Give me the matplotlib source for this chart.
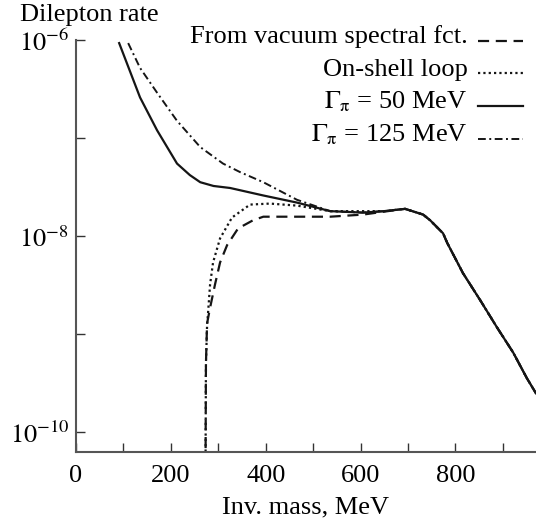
import matplotlib

matplotlib.use("Agg")
import matplotlib.pyplot as plt
import numpy as np
from matplotlib.legend_handler import HandlerLine2D
from matplotlib.lines import Line2D

plt.rcParams["font.family"] = ["Liberation Serif", "DejaVu Serif"]
plt.rcParams["mathtext.fontset"] = "stix"

# invariant mass (MeV) and dilepton rate
mass_g50 = [91, 135, 171, 213, 240, 262, 290, 325, 395, 466, 536, 605, 650, 694,
            732, 747, 774, 783, 816, 852, 888, 922, 951, 970]
rate_g50 = [9.3e-7, 2.6e-7, 1.2e-7, 5.5e-8, 4.2e-8, 3.55e-8, 3.25e-8, 3.1e-8, 2.6e-8,
            2.2e-8, 1.8e-8, 1.74e-8, 1.8e-8, 1.9e-8,
            1.66e-8, 1.45e-8, 1.07e-8, 8.5e-9, 4.2e-9, 2.24e-9, 1.17e-9, 6.5e-10,
            3.55e-10, 2.5e-10]

mass_g125 = [110, 135, 171, 213, 262, 310, 346, 395, 466, 515, 536, 605, 650, 694,
             732, 747, 774, 783, 816, 852, 888, 922, 951, 970]
rate_g125 = [9.3e-7, 5.2e-7, 2.9e-7, 1.5e-7, 8.1e-8, 5.5e-8, 4.5e-8, 3.55e-8, 2.35e-8,
             1.95e-8, 1.8e-8, 1.74e-8, 1.8e-8, 1.9e-8,
             1.66e-8, 1.45e-8, 1.07e-8, 8.5e-9, 4.2e-9, 2.24e-9, 1.17e-9, 6.5e-10,
             3.55e-10, 2.5e-10]

mass_onshell = [273, 274, 276.4, 278.5, 282.7, 289, 303.8, 329, 367, 409, 466, 536,
                605, 650, 694, 732, 747, 774, 783, 816, 852, 888, 922, 951, 970]
rate_onshell = [3e-11, 5e-10, 1.23e-9, 1.66e-9, 3.2e-9, 5.4e-9, 9.5e-9, 1.55e-8,
                2.1e-8, 2.15e-8, 2.05e-8, 1.8e-8, 1.8e-8, 1.8e-8, 1.9e-8,
                1.66e-8, 1.45e-8, 1.07e-8, 8.5e-9, 4.2e-9, 2.24e-9, 1.17e-9, 6.5e-10,
                3.55e-10, 2.5e-10]

mass_vacuum = [273, 274, 276.4, 282.7, 293, 303.8, 318.6, 341.8, 373, 395, 466, 536,
               605, 650, 694, 732, 747, 774, 783, 816, 852, 888, 922, 951, 970]
rate_vacuum = [3e-11, 5e-10, 1.29e-9, 1.86e-9, 3.2e-9, 5.4e-9, 8.1e-9, 1.2e-8,
               1.45e-8, 1.58e-8, 1.58e-8, 1.58e-8, 1.66e-8, 1.78e-8, 1.9e-8,
               1.66e-8, 1.45e-8, 1.07e-8, 8.5e-9, 4.2e-9, 2.24e-9, 1.17e-9, 6.5e-10,
               3.55e-10, 2.5e-10]

xticks = [0, 100, 200, 300, 400, 500, 600, 700, 800, 900]
xticklabels = ["0", "", "200", "", "400", "", "600", "", "800", ""]
yticks = [1e-10, 1e-9, 1e-8, 1e-7, 1e-6]
yticklabels = [r"$10^{-10}$", "", r"$10^{-8}$", "", r"$10^{-6}$"]


class LowLineHandler(HandlerLine2D):
    # legend samples sit near the text baseline in the original
    def create_artists(self, legend, orig_handle, xdescent, ydescent,
                       width, height, fontsize, trans):
        artists = super().create_artists(legend, orig_handle, xdescent, ydescent,
                                         width, height, fontsize, trans)
        for a in artists:
            if isinstance(a, Line2D):
                a.set_ydata(np.asarray(a.get_ydata()) - 0.35 * height)
        return artists


fig = plt.figure(figsize=(5.36, 5.23), dpi=100)
ax = fig.add_axes([76 / 536, 1 - 452 / 523, 460 / 536, 412 / 523])

ink = "#151515"
l_vac, = ax.plot(mass_vacuum, rate_vacuum, color=ink, lw=1.6, dashes=(5, 3))
l_on, = ax.plot(mass_onshell, rate_onshell, color=ink, lw=1.6, dashes=(1, 1.4))
l_50, = ax.plot(mass_g50, rate_g50, color=ink, lw=1.6)
l_125, = ax.plot(mass_g125, rate_g125, color=ink, lw=1.4, dashes=(4, 1.8, 1, 1.8))

ax.set_yscale("log")
ax.set_xlim(0, 970)
ax.set_ylim(10 ** -10.2, 1e-6)
ax.minorticks_off()
ax.set_xticks(xticks)
ax.set_xticklabels(xticklabels)
ax.set_yticks(yticks)
ax.set_yticklabels(yticklabels)
ax.tick_params(direction="in", length=6.5, width=1.0, color="#333333", labelsize=19)
ax.tick_params(axis="x", pad=9)
ax.tick_params(axis="y", pad=5)

for side in ("top", "right"):
    ax.spines[side].set_visible(False)
for side in ("left", "bottom"):
    ax.spines[side].set_color("#555555")
    ax.spines[side].set_linewidth(1.5)

ax.set_xlabel("Inv. mass, MeV", fontsize=19, labelpad=7)
fig.text(20 / 536, 1 - 21 / 523, "Dilepton rate", fontsize=19, va="baseline", ha="left")

leg = ax.legend(
    [l_vac, l_on, l_50, l_125],
    ["From vacuum spectral fct.", "On-shell loop",
     r"$\Gamma_{\mathrm{\pi}}$ = 50 MeV", r"$\Gamma_{\mathrm{\pi}}$ = 125 MeV"],
    handler_map={Line2D: LowLineHandler()},
    loc="upper right",
    bbox_to_anchor=(523 / 536, 1 - 25 / 523),
    bbox_transform=fig.transFigure,
    markerfirst=False,
    frameon=False,
    fontsize=19,
    handlelength=1.7,
    handletextpad=0.4,
    labelspacing=0.33,
    borderpad=0,
    borderaxespad=0,
)

fig.savefig("out.png", dpi=100)
